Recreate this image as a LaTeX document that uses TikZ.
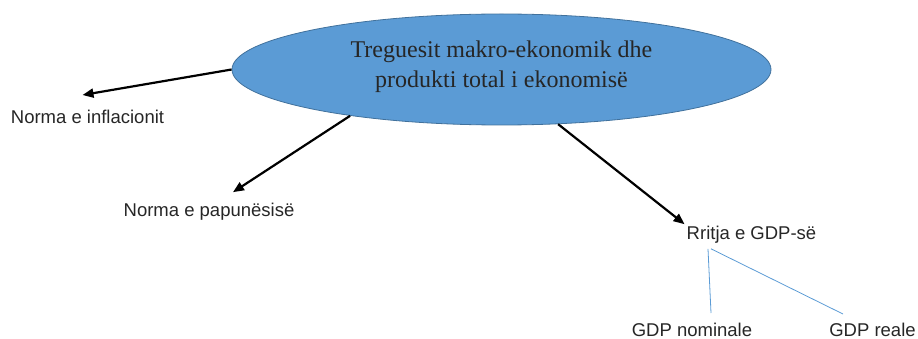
\documentclass[tikz,border=0pt]{standalone}
\usepackage{fontspec}
\setmainfont{Liberation Serif}
\setsansfont{Liberation Sans}
\usetikzlibrary{arrows.meta,shapes.geometric}
\definecolor{ovalblue}{HTML}{5B9BD5}
\definecolor{ovalline}{HTML}{41719C}
\definecolor{inkgray}{HTML}{262626}

\begin{document}
\begin{tikzpicture}[x=1pt, y=-1pt,
  oval/.style={ellipse, fill=ovalblue, draw=ovalline, line width=0.8pt,
    minimum width=539pt, minimum height=111pt, inner sep=0pt},
  ovaltext/.style={align=center, text=inkgray, font=\fontsize{24}{30}\selectfont},
  lbl/.style={text=inkgray, inner sep=2pt, font=\sffamily\fontsize{18.5}{22}\selectfont},
  arr/.style={line width=2.2pt, -{Triangle[length=11pt,width=9pt]}},
  twig/.style={draw=ovalblue, line width=0.8pt}]
  \useasboundingbox (0,0) rectangle (918,339);
  \node[oval] (macro) at (501.5,69.5) {};
  \node[ovaltext] (macrotxt) at (501.5,67) {Treguesit makro-ekonomik dhe\\produkti total i ekonomisë};
  \node[lbl] (infl) at (87.5,117) {Norma e inflacionit};
  \node[lbl] (unemp) at (209,212) {Norma e papunësisë};
  \node[lbl] (gdp) at (751.5,235) {Rritja e GDP-së};
  \node[lbl] (nom) at (692,330) {GDP nominale};
  \node[lbl] (real) at (872.5,330) {GDP reale};
  \draw[arr] (macro.west) -- ([shift={(-5,-13)}]infl.north);
  \draw[arr] (macro.197) -- ([shift={(24,-9)}]unemp.north);
  \draw[arr] (macro.316) -- (gdp.north west);
  \draw[twig] ([shift={(-43.5,3)}]gdp.south) -- ([shift={(19,-8)}]nom.north);
  \draw[twig] ([shift={(-40.5,3)}]gdp.south) -- ([shift={(-29.5,-7)}]real.north);
\end{tikzpicture}
\end{document}
